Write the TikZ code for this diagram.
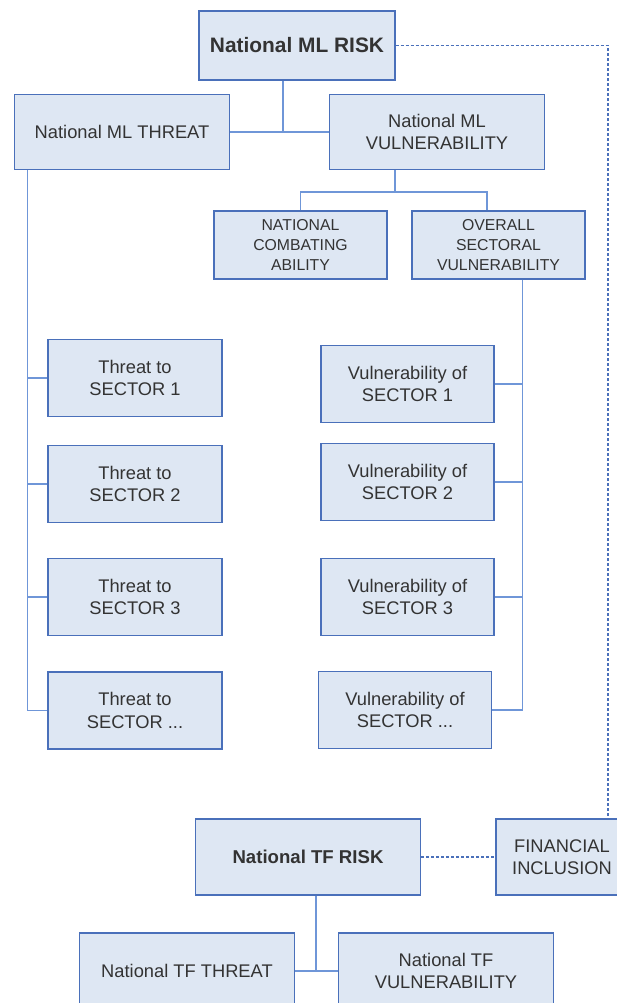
\documentclass[tikz,border=0pt]{standalone}
\usepackage{fontspec}
\setmainfont{Liberation Sans}
\usetikzlibrary{positioning}
\definecolor{boxfill}{HTML}{DEE7F3}
\definecolor{boxline}{HTML}{4A70BA}
\definecolor{linkline}{HTML}{6F96D8}
\definecolor{boxtext}{HTML}{333333}

\begin{document}
\begin{tikzpicture}[x=1pt,y=1pt,on grid,
		box/.style={draw=boxline,line width=1.2pt,fill=boxfill,text=boxtext,inner sep=0pt,align=center,font=\fontsize{18.3}{22.5}\selectfont},
		smallbox/.style={box,font=\fontsize{15.8}{19.7}\selectfont},
		riskbox/.style={box,font=\bfseries\fontsize{#1}{22.5}\selectfont},
		sector/.style={box,minimum width=174pt,minimum height=77pt},
		wide/.style={box,minimum width=215pt,minimum height=75pt},
		link/.style={draw=linkline,line width=1.3pt},
		dotlink/.style={draw=boxline,line width=1.2pt,dash pattern=on 3pt off 2pt}]
			\useasboundingbox (0,0) rectangle (617,-1003);
			\clip (0,0) rectangle (617,-1003);
			\node[riskbox=20.9,minimum width=196pt,minimum height=69pt] (mlrisk) at (297,-45.5) {National ML RISK};
			\node[wide] (mlthreat) [below left=86.5pt and 175pt of mlrisk] {National ML THREAT};
			\node[wide] (mlvuln) [below right=86.5pt and 140pt of mlrisk] {National ML\\VULNERABILITY};
			\node[smallbox,minimum width=173pt,minimum height=68pt] (nca) [below left=113pt and 136.5pt of mlvuln] {NATIONAL\\COMBATING\\ABILITY};
			\node[smallbox,minimum width=173pt,minimum height=68pt] (osv) [right=198pt of nca] {OVERALL\\SECTORAL\\VULNERABILITY};
			\node[sector] (t1) [below right=246pt and 13pt of mlthreat] {Threat to\\SECTOR 1};
			\node[sector] (t2) [below=106pt of t1] {Threat to\\SECTOR 2};
			\node[sector] (t3) [below=113pt of t2] {Threat to\\SECTOR 3};
			\node[sector] (t4) [below=113.5pt of t3] {Threat to\\SECTOR ...};
			\node[sector,minimum width=173pt] (v1) [below left=139pt and 91pt of osv] {Vulnerability of\\SECTOR 1};
			\node[sector,minimum width=173pt] (v2) [below=98pt of v1] {Vulnerability of\\SECTOR 2};
			\node[sector,minimum width=173pt] (v3) [below=115pt of v2] {Vulnerability of\\SECTOR 3};
			\node[sector,minimum width=173pt] (v4) [below left=113pt and 2.5pt of v3] {Vulnerability of\\SECTOR ...};
			\node[riskbox=18.6,minimum width=225pt,minimum height=76pt] (tfrisk) [below right=146.5pt and 173pt of t4] {National TF RISK};
			\node[box,minimum width=132pt,minimum height=76pt] (fi) [right=254pt of tfrisk] {FINANCIAL\\INCLUSION};
			\node[wide,minimum height=76pt] (tfthreat) [below left=114pt and 121pt of tfrisk] {National TF THREAT};
			\node[wide,minimum height=76pt] (tfvuln) [below right=114pt and 138pt of tfrisk] {National TF\\VULNERABILITY};
			\coordinate (mljoin) at ([xshift=-14pt]mlrisk.south);
			\draw[link] (mlthreat) -- (mlvuln);
			\draw[link] (mljoin) -- (mljoin |- mlthreat.east);
			\coordinate (vjoin) at ([xshift=-42pt]mlvuln.south);
			\draw[link] (vjoin) -- ++(0,-22) coordinate (vbar);
			\draw[link] (nca.north) |- (vbar) -| ([xshift=-11.5pt]osv.north);
			\coordinate (tspine) at ([xshift=13.5pt]mlthreat.south west);
			\draw[link] (tspine) |- (t4.west);
			\foreach \s in {t1,t2,t3}
				\draw[link] (tspine |- \s.west) -- (\s.west);
			\coordinate (vspine) at ([xshift=24pt]osv.south);
			\draw[link] (vspine) |- (v4.east);
			\foreach \s in {v1,v2,v3}
				\draw[link] (vspine |- \s.east) -- (\s.east);
			\draw[dotlink] (mlrisk.east) -| ([xshift=46pt]fi.north);
			\draw[dotlink] (tfrisk) -- (fi);
			\coordinate (tfjoin) at ([xshift=8pt]tfrisk.south);
			\draw[link] (tfthreat) -- (tfvuln);
			\draw[link] (tfjoin) -- (tfjoin |- tfthreat.east);
		\end{tikzpicture}
\end{document}
